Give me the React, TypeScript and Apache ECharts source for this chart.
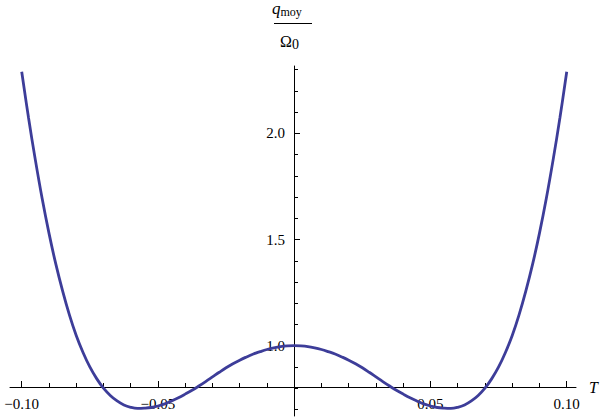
import React, { useEffect, useRef } from "react";
import * as echarts from "echarts";

// T values (x) and q_moy/Ω0 values (y)
const tValues = [
  -0.1, -0.0975, -0.095, -0.0925, -0.09, -0.0875, -0.085, -0.0825, -0.08, -0.0775,
  -0.075, -0.0725, -0.07, -0.0675, -0.065, -0.0625, -0.06, -0.0575, -0.055, -0.0525,
  -0.05, -0.0475, -0.045, -0.0425, -0.04, -0.0375, -0.035, -0.0325, -0.03, -0.0275,
  -0.025, -0.0225, -0.02, -0.0175, -0.015, -0.0125, -0.01, -0.0075, -0.005, -0.0025,
  0,
  0.0025, 0.005, 0.0075, 0.01, 0.0125, 0.015, 0.0175, 0.02, 0.0225, 0.025,
  0.0275, 0.03, 0.0325, 0.035, 0.0375, 0.04, 0.0425, 0.045, 0.0475, 0.05,
  0.0525, 0.055, 0.0575, 0.06, 0.0625, 0.065, 0.0675, 0.07, 0.0725, 0.075,
  0.0775, 0.08, 0.0825, 0.085, 0.0875, 0.09, 0.0925, 0.095, 0.0975, 0.1,
];
const qValues = [
  2.29, 2.073, 1.875, 1.693, 1.53, 1.385, 1.258, 1.145, 1.048, 0.968,
  0.9, 0.845, 0.8, 0.766, 0.74, 0.721, 0.71, 0.705, 0.706, 0.709,
  0.716, 0.726, 0.74, 0.755, 0.772, 0.79, 0.81, 0.831, 0.853, 0.875,
  0.896, 0.915, 0.932, 0.947, 0.961, 0.972, 0.982, 0.99, 0.996, 0.999,
  1.0,
  0.999, 0.996, 0.99, 0.982, 0.972, 0.961, 0.947, 0.932, 0.915, 0.896,
  0.875, 0.853, 0.831, 0.81, 0.79, 0.772, 0.755, 0.74, 0.726, 0.716,
  0.709, 0.706, 0.705, 0.71, 0.721, 0.74, 0.766, 0.8, 0.845, 0.9,
  0.968, 1.048, 1.145, 1.258, 1.385, 1.53, 1.693, 1.875, 2.073, 2.29,
];

const xMajorTicks = [-0.1, -0.05, 0.05, 0.1];
const xMinorTicks = [-0.09, -0.08, -0.07, -0.06, -0.04, -0.03, -0.02, -0.01, 0.01, 0.02, 0.03, 0.04, 0.06, 0.07, 0.08, 0.09];
const xTickLabels = ["\u22120.10", "\u22120.05", "0.05", "0.10"];
const yMajorTicks = [1.0, 1.5, 2.0];
const yMinorTicks = [0.7, 0.8, 0.9, 1.1, 1.2, 1.3, 1.4, 1.6, 1.7, 1.8, 1.9, 2.1, 2.2, 2.3];
const yTickLabels = ["1.0", "1.5", "2.0"];

const SERIF = "'Liberation Serif', 'Times New Roman', serif";
const LINE_COLOR = "#3d3d99";

export default function App() {
  const ref = useRef<HTMLDivElement>(null);
  useEffect(() => {
    if (!ref.current) return;
    const chart = echarts.init(ref.current, null, { renderer: "svg" });
    const xMin = -0.1043;
    const xMax = 0.1034;
    const yMin = 0.669;
    const yMax = 2.317;
    const gridLeft = 10;
    const gridRight = 29;
    const gridWidth = 605 - gridLeft - gridRight;
    // shift the y axis inward to sit at T = 0
    const yAxisOffset = -Math.round((gridWidth * (0 - xMin)) / (xMax - xMin));
    const xAxisOffset = -29;
    const labelStyle = { color: "#000", fontFamily: SERIF, fontSize: 15 };
    const xLabel = (v: number) => {
      const i = xMajorTicks.findIndex((t) => Math.abs(t - v) < 1e-9);
      return i >= 0 ? xTickLabels[i] : "";
    };
    const yLabel = (v: number) => {
      const i = yMajorTicks.findIndex((t) => Math.abs(t - v) < 1e-9);
      return i >= 0 ? yTickLabels[i] : "";
    };
    chart.setOption({
      animation: false,
      backgroundColor: "#fff",
      grid: { left: gridLeft, right: gridRight, top: 66, bottom: 3, containLabel: false, outerBoundsMode: "none" },
      xAxis: [
        {
          type: "value",
          min: xMin,
          max: xMax,
          position: "bottom",
          offset: xAxisOffset,
          axisLine: { show: true, onZero: false, lineStyle: { color: "#000", width: 1 } },
          axisTick: { show: true, inside: true, length: 6, customValues: xMajorTicks, lineStyle: { color: "#000" } },
          axisLabel: { show: true, customValues: xMajorTicks, formatter: xLabel, margin: 9, ...labelStyle },
          splitLine: { show: false },
          name: "T",
          nameLocation: "end",
          nameGap: 13,
          nameTextStyle: { color: "#000", fontFamily: SERIF, fontSize: 16, fontStyle: "italic", verticalAlign: "middle", padding: [0, 0, 4, 0] },
        },
        {
          type: "value",
          min: xMin,
          max: xMax,
          position: "bottom",
          offset: xAxisOffset,
          axisLine: { show: false, onZero: false },
          axisTick: { show: true, inside: true, length: 4, customValues: xMinorTicks, lineStyle: { color: "#000" } },
          axisLabel: { show: false },
          splitLine: { show: false },
        },
      ],
      yAxis: [
        {
          type: "value",
          min: yMin,
          max: yMax,
          position: "left",
          offset: yAxisOffset,
          axisLine: { show: true, onZero: false, lineStyle: { color: "#000", width: 1 } },
          axisTick: { show: true, inside: true, length: 6, customValues: yMajorTicks, lineStyle: { color: "#000" } },
          axisLabel: { show: true, customValues: yMajorTicks, formatter: yLabel, margin: 9, ...labelStyle },
          splitLine: { show: false },
        },
        {
          type: "value",
          min: yMin,
          max: yMax,
          position: "left",
          offset: yAxisOffset,
          axisLine: { show: false, onZero: false },
          axisTick: { show: true, inside: true, length: 4, customValues: yMinorTicks, lineStyle: { color: "#000" } },
          axisLabel: { show: false },
          splitLine: { show: false },
        },
      ],
      graphic: [
        {
          type: "text",
          left: 272,
          top: 0,
          style: {
            text: "{q|q}{s|moy}",
            rich: {
              q: { fontFamily: SERIF, fontSize: 17, fontStyle: "italic", fill: "#000" },
              s: { fontFamily: SERIF, fontSize: 12, fill: "#000", padding: [6, 0, 0, 0] },
            },
          },
        },
        {
          type: "line",
          shape: { x1: 274, y1: 23.5, x2: 312, y2: 23.5 },
          style: { stroke: "#000", lineWidth: 1 },
        },
        {
          type: "text",
          left: 280,
          top: 33,
          style: {
            text: "{o|\u03A9}{s|0}",
            rich: {
              o: { fontFamily: SERIF, fontSize: 16, fill: "#000" },
              s: { fontFamily: SERIF, fontSize: 14, fill: "#000", padding: [6, 0, 0, 0] },
            },
          },
        },
      ],
      series: [
        {
          type: "line",
          xAxisIndex: 0,
          yAxisIndex: 0,
          data: tValues.map((t, i) => [t, qValues[i]]),
          smooth: 0.4,
          showSymbol: false,
          clip: false,
          lineStyle: { color: LINE_COLOR, width: 2.8 },
          itemStyle: { color: LINE_COLOR },
        },
      ],
    });
    return () => chart.dispose();
  }, []);
  return (
    <div
      ref={ref}
      style={{ position: "fixed", left: 0, top: 0, width: 605, height: 419, background: "#fff" }}
    />
  );
}
